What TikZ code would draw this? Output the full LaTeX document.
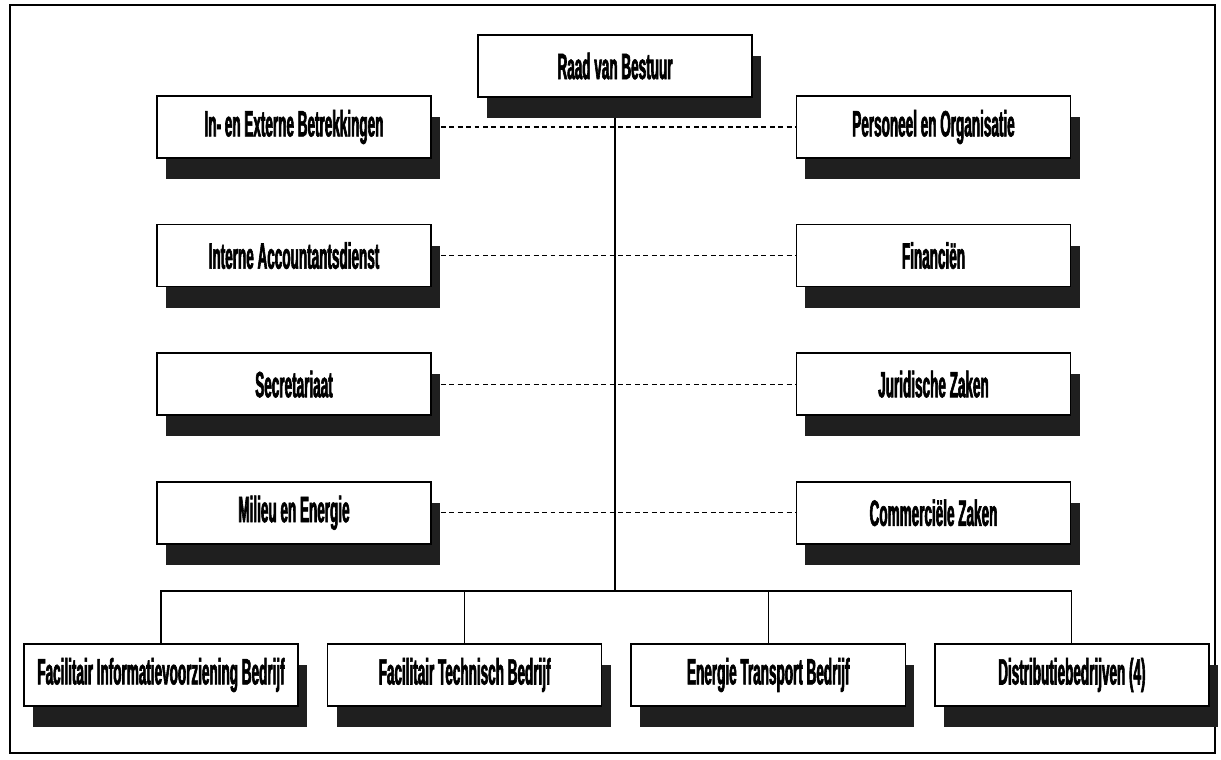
\documentclass[tikz,border=0pt]{standalone}
\usepackage{fontspec}
\newfontfamily\orgfont[FakeStretch=0.37,FakeBold=1.6]{Liberation Sans}
\usepackage{tikz}
\usetikzlibrary{positioning,shadows,backgrounds}

\begin{document}
\begin{tikzpicture}[x=0.025cm,y=-0.025cm]

\tikzstyle{unit}=[draw,rectangle,fill=white,line width=1.1pt,
  minimum width=6.85cm,minimum height=1.55cm,inner sep=1pt,
  font=\orgfont\bfseries\fontsize{26}{28}\selectfont,
  drop shadow={shadow xshift=0.225cm,shadow yshift=-0.525cm,fill=black!88,opacity=1}]
\tikzset{staff/.style={line width=0.8pt,dash pattern=on 3.5pt off 2.5pt}}
\tikzset{line/.style={line width=0.8pt}}

\useasboundingbox (0,0) rectangle (1221,759);
\draw[line width=1.8pt] (10,5) rectangle (1215,753);

\node[unit] (raad) at (615,66) {Raad van Bestuur};

\node[unit]                      (betr) at (294,127) {In- en Externe Betrekkingen};
\node[unit, below=1.625cm of betr] (acc)  {Interne Accountantsdienst};
\node[unit, below=1.625cm of acc]  (secr) {Secretariaat};
\node[unit, below=1.625cm of secr] (mil)  {Milieu en Energie};

\node[unit]                      (pers) at (933.5,127) {Personeel en Organisatie};
\node[unit, below=1.625cm of pers] (fin)  {Financiën};
\node[unit, below=1.625cm of fin]  (jur)  {Juridische Zaken};
\node[unit, below=1.625cm of jur]  (com)  {Commerciële Zaken};

\node[unit]                   (fib) at (161,675) {Facilitair Informatievoorziening Bedrijf};
\node[unit, right=0.7cm of fib] (ftb) {Facilitair Technisch Bedrijf};
\node[unit, right=0.7cm of ftb] (etb) {Energie Transport Bedrijf};
\node[unit, right=0.7cm of etb] (db)  {Distributiebedrijven (4)};

\coordinate (bus) at (615,591);

\begin{scope}[on background layer]
\draw[line] (raad.south) -- (raad.south |- bus);
\draw[line] (fib.north) -- (fib.north |- bus) -- (db.north |- bus) -- (db.north);
\draw[line] (ftb.north) -- (ftb.north |- bus);
\draw[line] (etb.north) -- (etb.north |- bus);
\foreach \a/\b in {betr/pers,acc/fin,secr/jur,mil/com}
  \draw[staff] ([xshift=0.225cm]\a.east) -- (\b.west);
\end{scope}

\end{tikzpicture}
\end{document}
